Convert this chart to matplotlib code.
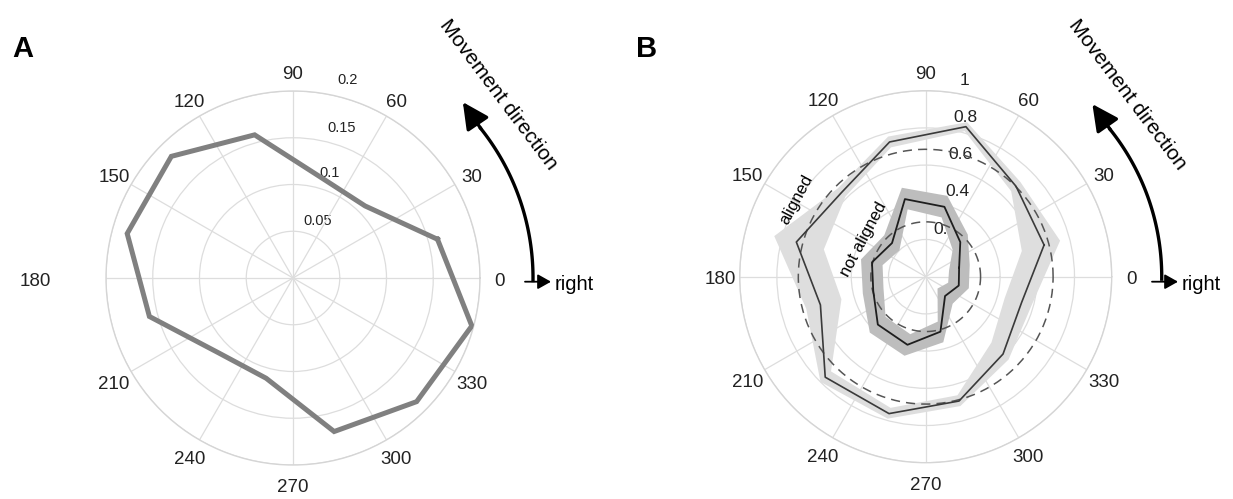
import numpy as np
import matplotlib
matplotlib.use('Agg')
import matplotlib.pyplot as plt
import matplotlib.transforms as mtransforms

plt.rcParams['font.family'] = ['Liberation Sans', 'DejaVu Sans']

# direction bins (deg) shared by both panels
angles_deg = [15, 45, 75, 105, 135, 165, 195, 225, 255, 285, 315, 345]

# panel A: share of movements per direction
movement_share = [0.160, 0.109, 0.112, 0.1585, 0.184, 0.1836,
                  0.159, 0.113, 0.111, 0.170, 0.187, 0.198]

# panel B: aligned / not aligned tuning with spread
aligned = [0.659, 0.687, 0.835, 0.750, 0.640, 0.720,
           0.586, 0.764, 0.762, 0.692, 0.588, 0.534]
aligned_low = [0.535, 0.650, 0.810, 0.720, 0.610, 0.567,
               0.469, 0.720, 0.730, 0.660, 0.500, 0.440]
aligned_high = [0.748, 0.720, 0.860, 0.780, 0.670, 0.843,
                0.665, 0.800, 0.790, 0.720, 0.630, 0.590]
aligned_mean = 0.685

not_aligned = [0.186, 0.263, 0.389, 0.432, 0.256, 0.299,
               0.292, 0.364, 0.379, 0.306, 0.147, 0.184]
not_aligned_low = [0.130, 0.205, 0.330, 0.375, 0.200, 0.240,
                   0.235, 0.305, 0.320, 0.250, 0.090, 0.125]
not_aligned_high = [0.245, 0.320, 0.450, 0.495, 0.315, 0.360,
                    0.350, 0.425, 0.440, 0.365, 0.205, 0.240]
not_aligned_mean = 0.295

theta_labels = list(range(0, 360, 30))
rings_a = [0.05, 0.1, 0.15, 0.2]
rings_b = [0.2, 0.4, 0.6, 0.8, 1.0]

W, H = 1233, 499
fig = plt.figure(figsize=(W / 100, H / 100), dpi=100)


def closed(vals):
    return list(vals) + [vals[0]]


th = np.deg2rad(closed(angles_deg))


def setup(ax, rmax, rings):
    ax.set_ylim(0, rmax)
    ax.set_yticks(rings)
    ax.set_yticklabels([])
    ax.set_xticks(np.deg2rad(theta_labels))
    ax.set_xticklabels([])
    ax.tick_params(length=0)
    ax.grid(color='#dddddd', lw=0.9)
    ax.spines['polar'].set_color('#d5d5d5')
    ax.spines['polar'].set_linewidth(1.0)
    down = mtransforms.offset_copy(ax.transData, fig=fig, y=-3, units='dots')
    for a in theta_labels:
        r = 1.105 * rmax
        if a == 180 and rmax < 0.5:
            r = 1.38 * rmax
        ax.text(np.deg2rad(a), r, str(a), ha='center', va='center',
                fontsize=13.5, color='#222222', transform=down, clip_on=False)


def direction_arrow(ax, r_arc, r_tip, cx, label_xy):
    t = np.deg2rad(np.linspace(-1.0, 39, 60))
    ax.plot(t, np.full_like(t, r_arc), color='black', lw=2.4, clip_on=False,
            solid_capstyle='butt')
    ax.annotate('', xy=(np.deg2rad(46), r_tip), xytext=(np.deg2rad(38.5), r_arc),
                arrowprops=dict(arrowstyle='-|>,head_length=0.8,head_width=0.4',
                                mutation_scale=20, color='black', lw=2.4,
                                shrinkA=0, shrinkB=0),
                annotation_clip=False)
    y = H - 281.7
    ax.annotate('', xy=(cx + 26, y), xytext=(cx, y), xycoords='figure pixels',
                textcoords='figure pixels',
                arrowprops=dict(arrowstyle='-|>,head_length=0.8,head_width=0.45',
                                mutation_scale=10, color='black', lw=1.3,
                                shrinkA=0, shrinkB=0))
    fig.text((cx + 30) / W, 1 - 285 / H, 'right', ha='left', va='center',
             fontsize=14.5)
    fig.text(label_xy[0] / W, 1 - label_xy[1] / H, 'Movement direction',
             ha='center', va='center', rotation=-53, fontsize=15)


# ---- panel A ----
ax_a = fig.add_axes([106 / W, 1 - 465 / H, 374 / W, 374 / H], projection='polar')
setup(ax_a, 0.2, rings_a)
ax_a.plot(th, closed(movement_share), color='#808080', lw=3.6, zorder=3,
          solid_joinstyle='miter')
ring_pos_a = [(66.3, 0.0665), (70.6, 0.119), (71.9, 0.169), (74.5, 0.2198)]
for val, (a, r) in zip(rings_a, ring_pos_a):
    ax_a.text(np.deg2rad(a), r, f'{val:g}', ha='center', va='center',
              fontsize=10.5, color='#222222', zorder=1, clip_on=False)
direction_arrow(ax_a, 0.2567, 0.2615, 525, (498, 95))
fig.text(23 / W, 1 - 49 / H, 'A', fontsize=21, fontweight='bold',
         ha='center', va='center')

# ---- panel B ----
ax_b = fig.add_axes([739.7 / W, 1 - 462.7 / H, 372 / W, 372 / H], projection='polar')
setup(ax_b, 1.0, rings_b)
ring_pos_b = [(67.5, 0.272), (69.5, 0.488), (74.0, 0.685), (76.1, 0.882), (78.7, 1.075)]
for val, (a, r) in zip(rings_b, ring_pos_b):
    ax_b.text(np.deg2rad(a), r, f'{val:g}', ha='center', va='center',
              fontsize=12.5, color='#222222', zorder=1, clip_on=False)

band_th = np.concatenate([th, th[::-1]])
ax_b.fill(band_th, closed(aligned_high) + closed(aligned_low)[::-1],
          color='#dedede', lw=0, zorder=2)
ax_b.fill(band_th, closed(not_aligned_high) + closed(not_aligned_low)[::-1],
          color='#bdbdbd', lw=0, zorder=2)

circ = np.linspace(0, 2 * np.pi, 240)
ax_b.plot(circ, np.full_like(circ, aligned_mean), color='#555555', lw=1.1,
          dashes=(6, 4), zorder=3)
ax_b.plot(circ, np.full_like(circ, not_aligned_mean), color='#555555', lw=1.1,
          dashes=(6, 4), zorder=3)
ax_b.plot(th, closed(aligned), color='#3a3a3a', lw=1.2, zorder=4)
ax_b.plot(th, closed(not_aligned), color='#1e1e1e', lw=1.3, zorder=4)

fig.text(796 / W, 1 - 200 / H, 'aligned', rotation=62, fontsize=12,
         ha='center', va='center')
fig.text(864 / W, 1 - 239 / H, 'not aligned', rotation=62, fontsize=12,
         ha='center', va='center')
direction_arrow(ax_b, 1.269, 1.29, 1152, (1127, 95))
fig.text(647 / W, 1 - 49 / H, 'B', fontsize=21, fontweight='bold',
         ha='center', va='center')

fig.savefig('out.png', dpi=100)
